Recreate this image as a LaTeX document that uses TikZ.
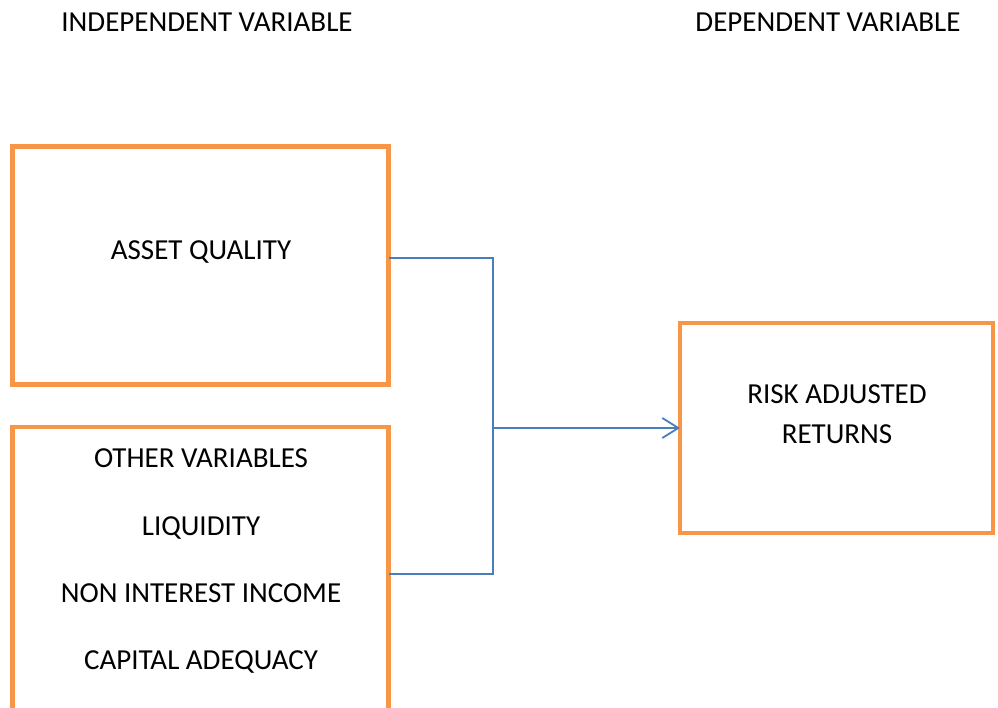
\documentclass[tikz,border=0pt]{standalone}
\usepackage{fontspec}
\setmainfont{Carlito}
\usetikzlibrary{arrows.meta}
\definecolor{boxorange}{HTML}{F79646}
\definecolor{connblue}{HTML}{4A7EBB}
\begin{document}
\begin{tikzpicture}[x=1pt,y=-1pt,
  box/.style={draw=boxorange,line width=4.5pt,rectangle,outer sep=0pt,inner sep=0pt},
  lbl/.style={anchor=base,inner sep=0pt,font=\fontsize{29}{34}\selectfont},
  conn/.style={draw=connblue,line width=1.8pt},
  arr/.style={conn,-{Straight Barb[length=16pt,width=20pt,line width=1.8pt]}}]
\path[use as bounding box,clip] (0,0) rectangle (998,708);
\node[box,minimum width=376pt,minimum height=237.8pt] (b1) at (200.7,265.6) {};
\node[box,minimum width=376pt,minimum height=313.3pt] (b2) at (200.7,583.4) {};
\node[box,minimum width=313pt,minimum height=210pt] (b3) at (836.5,428) {};
\node[lbl] (h1) at (207,31.5) {INDEPENDENT VARIABLE};
\node[lbl] (h2) at (828,31.5) {DEPENDENT VARIABLE};
\node[lbl] (t1) at (201,260) {ASSET QUALITY};
\node[lbl] (t2) at (201,467) {OTHER VARIABLES};
\node[lbl] (t3) at (201,535) {LIQUIDITY};
\node[lbl] (t4) at (201,602) {NON INTEREST INCOME};
\node[lbl] (t5) at (201,669) {CAPITAL ADEQUACY};
\node[lbl] (t6) at (837,403) {RISK ADJUSTED};
\node[lbl] (t7) at (837,443) {RETURNS};
\coordinate (jt) at (492.7,258.3);
\coordinate (jb) at (492.7,574);
\draw[conn] (b1.east |- jt) -- (jt) -- (jb) -- (b2.east |- jb);
\draw[arr] (jt |- b3.west) -- (b3.west);
\end{tikzpicture}
\end{document}
